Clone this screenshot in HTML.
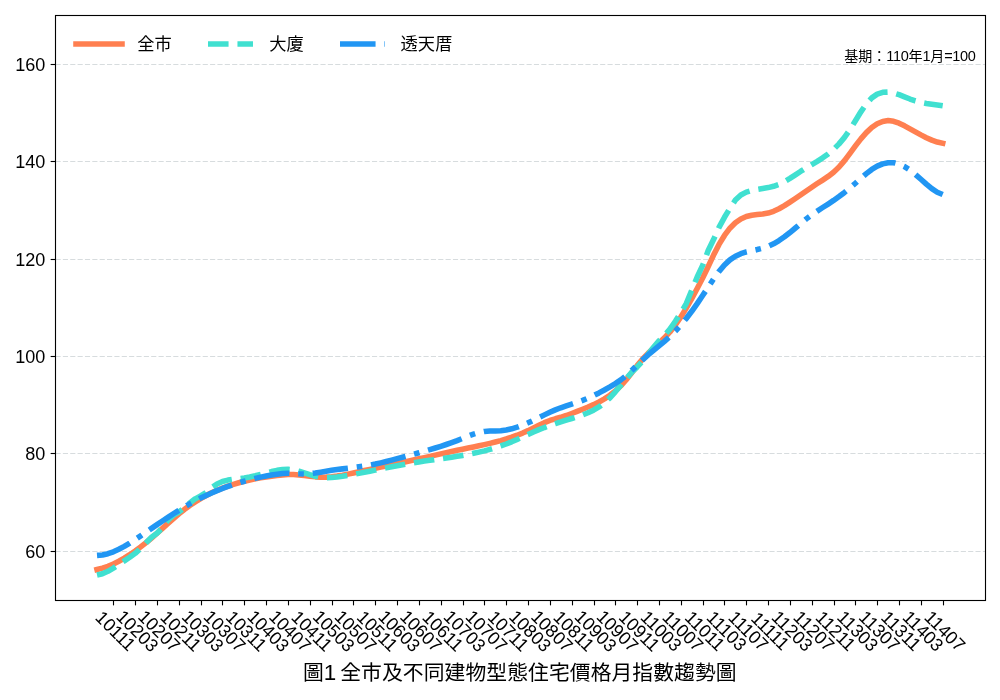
<!DOCTYPE html>
<html>
<head>
<meta charset="utf-8">
<title>圖1 全市及不同建物型態住宅價格月指數趨勢圖</title>
<style>
html, body { margin: 0; padding: 0; background: #ffffff; }
body { width: 1000px; height: 700px; overflow: hidden; }
figure.chart { margin: 0; padding: 0; width: 1000px; height: 700px; }
svg { display: block; }
text { font-family: "Liberation Sans", "Noto Sans CJK JP", sans-serif; fill: #000000; }
.tick { font-size: 18.06px; letter-spacing: 0.0px; }
.xt { font-size: 18.07px; letter-spacing: 0.0px; }
.leg { font-size: 17.26px; letter-spacing: 0.1px; }
.note { font-size: 14.05px; letter-spacing: 0.0px; }
.note .d { font-size: 14.5px; letter-spacing: -0.35px; }
.title { font-size: 20.8px; letter-spacing: 0.07px; }
.title .d { font-size: 22.4px; letter-spacing: -1.1px; }
</style>
</head>
<body>
<figure class="chart">
<svg width="1000" height="700" viewBox="0 0 1000 700" role="img" aria-label="全市及不同建物型態住宅價格月指數趨勢圖">
<rect x="0" y="0" width="1000" height="700" fill="#ffffff"/>
<g id="grid" stroke="#d7dcde" stroke-width="1.11" stroke-dasharray="5.14 2.22" fill="none">
<path d="M55.5 551.5 H985.5"/>
<path d="M55.5 453.5 H985.5"/>
<path d="M55.5 356.5 H985.5"/>
<path d="M55.5 259.5 H985.5"/>
<path d="M55.5 161.5 H985.5"/>
<path d="M55.5 64.5 H985.5"/>
</g>
<g id="series" fill="none" stroke-width="5.56" stroke-linejoin="round">
<path d="M97.01 569.53 L102.46 568.13 L107.92 566.26 L113.38 563.95 L118.83 561.24 L124.29 558.16 L129.74 554.72 L135.20 550.95 L140.66 546.89 L146.11 542.57 L151.57 538.00 L157.03 533.23 L162.48 528.34 L167.94 523.43 L173.39 518.60 L178.85 513.95 L184.31 509.58 L189.76 505.56 L195.22 501.90 L200.67 498.57 L206.13 495.54 L211.59 492.81 L217.04 490.34 L222.50 488.12 L227.96 486.13 L233.41 484.34 L238.87 482.73 L244.32 481.30 L249.78 480.01 L255.24 478.88 L260.69 477.87 L266.15 476.99 L271.61 476.22 L277.06 475.55 L282.52 474.97 L287.97 474.58 L293.43 474.58 L298.89 474.97 L304.34 475.59 L309.80 476.27 L315.25 476.85 L320.71 477.17 L326.17 477.12 L331.62 476.73 L337.08 476.06 L342.54 475.17 L347.99 474.12 L353.45 472.96 L358.90 471.76 L364.36 470.58 L369.82 469.41 L375.27 468.26 L380.73 467.12 L386.18 465.97 L391.64 464.82 L397.10 463.66 L402.55 462.48 L408.01 461.28 L413.47 460.06 L418.92 458.82 L424.38 457.59 L429.83 456.35 L435.29 455.12 L440.75 453.89 L446.20 452.68 L451.66 451.49 L457.12 450.33 L462.57 449.19 L468.03 448.08 L473.48 446.97 L478.94 445.83 L484.40 444.64 L489.85 443.39 L495.31 442.04 L500.76 440.57 L506.22 438.96 L511.68 437.19 L517.13 435.23 L522.59 433.06 L528.05 430.65 L533.50 428.00 L538.96 425.25 L544.41 422.66 L549.87 420.46 L555.33 418.80 L560.78 417.28 L566.24 415.50 L571.69 413.51 L577.15 411.39 L582.61 409.23 L588.06 407.03 L593.52 404.66 L598.98 402.00 L604.43 398.91 L609.89 395.26 L615.34 390.93 L620.80 385.79 L626.26 379.70 L631.71 372.73 L637.17 365.57 L642.63 359.02 L648.08 353.33 L653.54 348.15 L658.99 343.12 L664.45 337.86 L669.91 331.96 L675.36 325.03 L680.82 317.02 L686.27 308.13 L691.73 298.55 L697.19 288.48 L702.64 277.97 L708.10 266.75 L713.56 255.11 L719.01 244.43 L724.47 235.45 L729.92 228.20 L735.38 222.71 L740.84 218.93 L746.29 216.56 L751.75 215.23 L757.20 214.51 L762.66 213.94 L768.12 213.03 L773.57 211.32 L779.03 208.78 L784.49 205.63 L789.94 202.11 L795.40 198.44 L800.85 194.70 L806.31 190.94 L811.77 187.21 L817.22 183.56 L822.68 180.04 L828.13 176.43 L833.59 172.26 L839.05 167.05 L844.50 160.61 L849.96 153.39 L855.42 145.95 L860.87 138.85 L866.33 132.62 L871.78 127.55 L877.24 123.78 L882.70 121.43 L888.15 120.60 L893.61 121.32 L899.07 123.22 L904.52 125.86 L909.98 128.83 L915.43 131.89 L920.89 134.90 L926.35 137.70 L931.80 140.14 L937.26 142.05 L942.71 143.28" stroke="#ff7f50" stroke-linecap="square"/>
<path d="M97.01 574.94 L102.46 573.70 L107.92 571.30 L113.38 568.12 L118.83 564.53 L124.29 560.89 L129.74 557.30 L135.20 553.34 L140.66 548.49 L146.11 542.72 L151.57 537.28 L157.03 533.21 L162.48 527.75 L167.94 520.07 L173.39 515.15 L178.85 512.03 L184.31 508.07 L189.76 502.92 L195.22 498.84 L200.67 495.91 L206.13 492.41 L211.59 487.78 L217.04 483.97 L222.50 481.53 L227.96 480.09 L233.41 479.26 L238.87 478.69 L244.32 477.98 L249.78 476.98 L255.24 475.75 L260.69 474.39 L266.15 472.97 L271.61 471.58 L277.06 470.37 L282.52 469.54 L287.97 469.33 L293.43 469.93 L298.89 471.22 L304.34 472.90 L309.80 474.67 L315.25 476.21 L320.71 477.24 L326.17 477.64 L331.62 477.54 L337.08 477.05 L342.54 476.28 L347.99 475.37 L353.45 474.39 L358.90 473.36 L364.36 472.30 L369.82 471.22 L375.27 470.12 L380.73 469.01 L386.18 467.90 L391.64 466.81 L397.10 465.75 L402.55 464.71 L408.01 463.72 L413.47 462.78 L418.92 461.90 L424.38 461.08 L429.83 460.29 L435.29 459.52 L440.75 458.75 L446.20 457.97 L451.66 457.17 L457.12 456.32 L462.57 455.41 L468.03 454.42 L473.48 453.34 L478.94 452.15 L484.40 450.84 L489.85 449.38 L495.31 447.77 L500.76 445.98 L506.22 444.00 L511.68 441.82 L517.13 439.45 L522.59 436.96 L528.05 434.45 L533.50 431.99 L538.96 429.67 L544.41 427.52 L549.87 425.54 L555.33 423.68 L560.78 421.91 L566.24 420.20 L571.69 418.50 L577.15 416.78 L582.61 414.93 L588.06 412.78 L593.52 410.17 L598.98 406.92 L604.43 402.88 L609.89 397.86 L615.34 391.82 L620.80 385.18 L626.26 378.50 L631.71 372.33 L637.17 366.91 L642.63 361.04 L648.08 354.26 L653.54 347.30 L658.99 340.92 L664.45 335.30 L669.91 329.10 L675.36 321.28 L680.82 312.80 L686.27 303.57 L691.73 290.22 L697.19 276.97 L702.64 265.42 L708.10 250.82 L713.56 239.54 L719.01 227.30 L724.47 217.30 L729.92 208.31 L735.38 200.07 L740.84 194.95 L746.29 192.11 L751.75 190.48 L757.20 189.39 L762.66 188.53 L768.12 187.59 L773.57 186.30 L779.03 184.35 L784.49 181.63 L789.94 178.37 L795.40 174.82 L800.85 171.22 L806.31 167.82 L811.77 164.60 L817.22 161.35 L822.68 157.86 L828.13 153.93 L833.59 149.34 L839.05 143.88 L844.50 137.35 L849.96 129.53 L855.42 120.71 L860.87 111.82 L866.33 103.87 L871.78 97.84 L877.24 94.12 L882.70 92.33 L888.15 92.09 L893.61 92.99 L899.07 94.68 L904.52 96.81 L909.98 99.02 L915.43 100.95 L920.89 102.39 L926.35 103.44 L931.80 104.25 L937.26 104.99 L942.71 105.80" stroke="#40e0d0" stroke-dasharray="20.56 8.89"/>
<path d="M97.01 555.38 L102.46 554.94 L107.92 553.71 L113.38 551.80 L118.83 549.32 L124.29 546.37 L129.74 543.06 L135.20 539.52 L140.66 535.84 L146.11 532.12 L151.57 528.38 L157.03 524.66 L162.48 520.96 L167.94 517.33 L173.39 513.78 L178.85 510.34 L184.31 507.02 L189.76 503.87 L195.22 500.89 L200.67 498.08 L206.13 495.44 L211.59 492.96 L217.04 490.63 L222.50 488.46 L227.96 486.44 L233.41 484.56 L238.87 482.82 L244.32 481.21 L249.78 479.73 L255.24 478.38 L260.69 477.15 L266.15 476.04 L271.61 475.04 L277.06 474.15 L282.52 473.47 L287.97 473.21 L293.43 473.45 L298.89 473.83 L304.34 473.93 L309.80 473.60 L315.25 472.96 L320.71 472.13 L326.17 471.23 L331.62 470.35 L337.08 469.58 L342.54 468.87 L347.99 468.20 L353.45 467.52 L358.90 466.80 L364.36 466.01 L369.82 465.10 L375.27 464.05 L380.73 462.85 L386.18 461.54 L391.64 460.14 L397.10 458.68 L402.55 457.20 L408.01 455.72 L413.47 454.24 L418.92 452.74 L424.38 451.21 L429.83 449.64 L435.29 448.01 L440.75 446.30 L446.20 444.49 L451.66 442.58 L457.12 440.55 L462.57 438.38 L468.03 436.17 L473.48 434.13 L478.94 432.48 L484.40 431.43 L489.85 431.06 L495.31 431.00 L500.76 430.76 L506.22 430.03 L511.68 428.81 L517.13 427.15 L522.59 425.13 L528.05 422.81 L533.50 420.26 L538.96 417.58 L544.41 414.88 L549.87 412.27 L555.33 409.88 L560.78 407.78 L566.24 405.91 L571.69 404.14 L577.15 402.34 L582.61 400.38 L588.06 398.15 L593.52 395.65 L598.98 392.90 L604.43 389.96 L609.89 386.85 L615.34 383.57 L620.80 379.87 L626.26 375.48 L631.71 370.41 L637.17 365.04 L642.63 359.80 L648.08 354.95 L653.54 350.38 L658.99 345.89 L664.45 341.31 L669.91 336.45 L675.36 331.10 L680.82 325.12 L686.27 318.48 L691.73 311.28 L697.19 303.60 L702.64 295.55 L708.10 287.25 L713.56 279.04 L719.01 271.44 L724.47 264.92 L729.92 259.88 L735.38 256.23 L740.84 253.70 L746.29 251.95 L751.75 250.68 L757.20 249.55 L762.66 248.24 L768.12 246.42 L773.57 243.85 L779.03 240.59 L784.49 236.77 L789.94 232.53 L795.40 228.01 L800.85 223.35 L806.31 218.87 L811.77 214.80 L817.22 211.08 L822.68 207.54 L828.13 204.04 L833.59 200.40 L839.05 196.54 L844.50 192.41 L849.96 188.00 L855.42 183.27 L860.87 178.36 L866.33 173.63 L871.78 169.47 L877.24 166.17 L882.70 163.86 L888.15 162.67 L893.61 162.71 L899.07 164.07 L904.52 166.62 L909.98 170.16 L915.43 174.47 L920.89 179.29 L926.35 184.17 L931.80 188.66 L937.26 192.28 L942.71 194.56" stroke="#2196f3" stroke-dasharray="35.56 8.89 5.56 8.89"/>
</g>
<rect x="55.5" y="15.5" width="930.0" height="585.0" fill="none" stroke="#000" stroke-width="1.11"/>
<g id="ticks" stroke="#000" stroke-width="1.11">
<path d="M50.64 551.5 H55.5"/>
<path d="M50.64 453.5 H55.5"/>
<path d="M50.64 356.5 H55.5"/>
<path d="M50.64 259.5 H55.5"/>
<path d="M50.64 161.5 H55.5"/>
<path d="M50.64 64.5 H55.5"/>
<path d="M113.5 600.5 V605.36"/>
<path d="M135.5 600.5 V605.36"/>
<path d="M157.5 600.5 V605.36"/>
<path d="M179.5 600.5 V605.36"/>
<path d="M201.5 600.5 V605.36"/>
<path d="M222.5 600.5 V605.36"/>
<path d="M244.5 600.5 V605.36"/>
<path d="M266.5 600.5 V605.36"/>
<path d="M288.5 600.5 V605.36"/>
<path d="M310.5 600.5 V605.36"/>
<path d="M332.5 600.5 V605.36"/>
<path d="M353.5 600.5 V605.36"/>
<path d="M375.5 600.5 V605.36"/>
<path d="M397.5 600.5 V605.36"/>
<path d="M419.5 600.5 V605.36"/>
<path d="M441.5 600.5 V605.36"/>
<path d="M463.5 600.5 V605.36"/>
<path d="M484.5 600.5 V605.36"/>
<path d="M506.5 600.5 V605.36"/>
<path d="M528.5 600.5 V605.36"/>
<path d="M550.5 600.5 V605.36"/>
<path d="M572.5 600.5 V605.36"/>
<path d="M594.5 600.5 V605.36"/>
<path d="M615.5 600.5 V605.36"/>
<path d="M637.5 600.5 V605.36"/>
<path d="M659.5 600.5 V605.36"/>
<path d="M681.5 600.5 V605.36"/>
<path d="M703.5 600.5 V605.36"/>
<path d="M724.5 600.5 V605.36"/>
<path d="M746.5 600.5 V605.36"/>
<path d="M768.5 600.5 V605.36"/>
<path d="M790.5 600.5 V605.36"/>
<path d="M812.5 600.5 V605.36"/>
<path d="M834.5 600.5 V605.36"/>
<path d="M855.5 600.5 V605.36"/>
<path d="M877.5 600.5 V605.36"/>
<path d="M899.5 600.5 V605.36"/>
<path d="M921.5 600.5 V605.36"/>
<path d="M943.5 600.5 V605.36"/>
</g>
<g id="y-labels" class="tick" text-anchor="end">
<text x="45.4" y="557.84">60</text>
<text x="45.4" y="460.41">80</text>
<text x="45.4" y="362.99">100</text>
<text x="45.4" y="265.56">120</text>
<text x="45.4" y="168.14">140</text>
<text x="45.4" y="70.71">160</text>
</g>
<g id="x-labels" class="xt" text-anchor="middle">
<text transform="translate(113.38 630.50) rotate(45)" x="1.9" y="5.025">10111</text>
<text transform="translate(135.20 630.50) rotate(45)" x="1.9" y="5.025">10203</text>
<text transform="translate(157.03 630.50) rotate(45)" x="1.9" y="5.025">10207</text>
<text transform="translate(178.85 630.50) rotate(45)" x="1.9" y="5.025">10211</text>
<text transform="translate(200.67 630.50) rotate(45)" x="1.9" y="5.025">10303</text>
<text transform="translate(222.50 630.50) rotate(45)" x="1.9" y="5.025">10307</text>
<text transform="translate(244.32 630.50) rotate(45)" x="1.9" y="5.025">10311</text>
<text transform="translate(266.15 630.50) rotate(45)" x="1.9" y="5.025">10403</text>
<text transform="translate(287.97 630.50) rotate(45)" x="1.9" y="5.025">10407</text>
<text transform="translate(309.80 630.50) rotate(45)" x="1.9" y="5.025">10411</text>
<text transform="translate(331.62 630.50) rotate(45)" x="1.9" y="5.025">10503</text>
<text transform="translate(353.45 630.50) rotate(45)" x="1.9" y="5.025">10507</text>
<text transform="translate(375.27 630.50) rotate(45)" x="1.9" y="5.025">10511</text>
<text transform="translate(397.10 630.50) rotate(45)" x="1.9" y="5.025">10603</text>
<text transform="translate(418.92 630.50) rotate(45)" x="1.9" y="5.025">10607</text>
<text transform="translate(440.75 630.50) rotate(45)" x="1.9" y="5.025">10611</text>
<text transform="translate(462.57 630.50) rotate(45)" x="1.9" y="5.025">10703</text>
<text transform="translate(484.40 630.50) rotate(45)" x="1.9" y="5.025">10707</text>
<text transform="translate(506.22 630.50) rotate(45)" x="1.9" y="5.025">10711</text>
<text transform="translate(528.05 630.50) rotate(45)" x="1.9" y="5.025">10803</text>
<text transform="translate(549.87 630.50) rotate(45)" x="1.9" y="5.025">10807</text>
<text transform="translate(571.69 630.50) rotate(45)" x="1.9" y="5.025">10811</text>
<text transform="translate(593.52 630.50) rotate(45)" x="1.9" y="5.025">10903</text>
<text transform="translate(615.34 630.50) rotate(45)" x="1.9" y="5.025">10907</text>
<text transform="translate(637.17 630.50) rotate(45)" x="1.9" y="5.025">10911</text>
<text transform="translate(658.99 630.50) rotate(45)" x="1.9" y="5.025">11003</text>
<text transform="translate(680.82 630.50) rotate(45)" x="1.9" y="5.025">11007</text>
<text transform="translate(702.64 630.50) rotate(45)" x="1.9" y="5.025">11011</text>
<text transform="translate(724.47 630.50) rotate(45)" x="1.9" y="5.025">11103</text>
<text transform="translate(746.29 630.50) rotate(45)" x="1.9" y="5.025">11107</text>
<text transform="translate(768.12 630.50) rotate(45)" x="1.9" y="5.025">11111</text>
<text transform="translate(789.94 630.50) rotate(45)" x="1.9" y="5.025">11203</text>
<text transform="translate(811.77 630.50) rotate(45)" x="1.9" y="5.025">11207</text>
<text transform="translate(833.59 630.50) rotate(45)" x="1.9" y="5.025">11211</text>
<text transform="translate(855.42 630.50) rotate(45)" x="1.9" y="5.025">11303</text>
<text transform="translate(877.24 630.50) rotate(45)" x="1.9" y="5.025">11307</text>
<text transform="translate(899.07 630.50) rotate(45)" x="1.9" y="5.025">11311</text>
<text transform="translate(920.89 630.50) rotate(45)" x="1.9" y="5.025">11403</text>
<text transform="translate(942.71 630.50) rotate(45)" x="1.9" y="5.025">11407</text>
</g>
<g id="legend-handles" fill="none" stroke-width="5.56">
<path d="M76 44 H122" stroke="#ff7f50" stroke-linecap="square"/>
<path d="M208 44 H253" stroke="#40e0d0" stroke-dasharray="20.56 8.89"/>
<path d="M340 44 H385" stroke="#2196f3" stroke-dasharray="35.56 8.89 5.56 8.89"/>
</g>
<g id="legend-labels" class="leg">
<text x="137.2" y="50.3">全市</text>
<text x="269.2" y="50.3">大廈</text>
<text x="400.5" y="50.3">透天厝</text>
</g>
<text class="note" x="975.5" y="61.0" text-anchor="end">基期：<tspan class="d">110</tspan>年<tspan class="d">1</tspan>月<tspan class="d">=100</tspan></text>
<text class="title" x="519.8" y="679.5" text-anchor="middle">圖<tspan class="d">1 </tspan>全市及不同建物型態住宅價格月指數趨勢圖</text>
</svg>
</figure>
</body>
</html>
